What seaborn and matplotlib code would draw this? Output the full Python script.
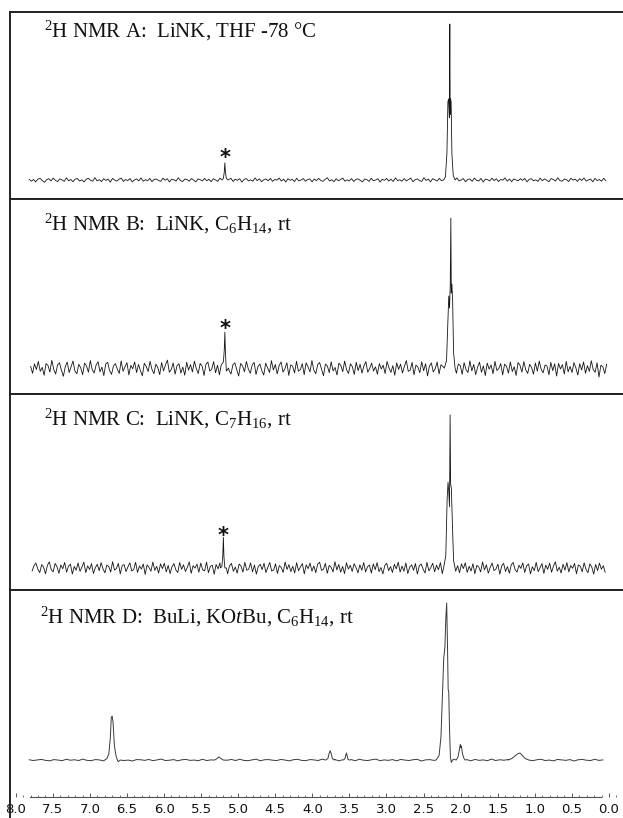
import numpy as np
import pandas as pd
import matplotlib
matplotlib.use("Agg")
import matplotlib.pyplot as plt
from matplotlib.ticker import FixedLocator, MultipleLocator, FixedFormatter
import seaborn as sns

# ---------------- data ----------------
titles = [
    r"$^{2}$H NMR A:  LiNK, THF -78 °C",
    r"$^{2}$H NMR B:  LiNK, C$_{6}$H$_{14}$, rt",
    r"$^{2}$H NMR C:  LiNK, C$_{7}$H$_{16}$, rt",
    r"$^{2}$H NMR D:  BuLi, KO$\mathit{t}$Bu, C$_{6}$H$_{14}$, rt",
]
tick_vals = [8.0, 7.5, 7.0, 6.5, 6.0, 5.5, 5.0, 4.5, 4.0, 3.5, 3.0, 2.5, 2.0, 1.5, 1.0, 0.5, 0.0]
spectrum_start = [7.82, 7.80, 7.78, 7.82]
spectrum_end = [0.04, 0.03, 0.05, 0.08]

# baseline noise (thousandths of the main peak height)
noise_A = [5, -8, 3, -12, 6, 10, -4, -15, 2, 8, -6, 12, -3, -10, 7, 0, -9, 14, -5, 3, -11, 6, 9, -7, 1,
           -13, 4, 11, -2, -8, 15, -6, 2, -10, 8, -3, 6, -14, 10, -1, -7, 5, 12, -9, 3, -4, 9, -12, 0, 7,
           -6, 13, -8, 2, -5, 10, -11, 4, 6, -3, -9, 11, -2, 8, -13, 5, 1, -7, 14, -4, -10, 6, 3, -8, 9,
           -1, -12, 7, 2, -6, 10, -5, 4, -11, 8, 0, -9, 12, -3, 6, -7, 3, 11, -10, 5, -2, 8, -14, 4, 9,
           -6, 1, -8, 13, -4, 7, -11, 2, 6, -5, 10, -9, 3, -1, 12, -7, 5, -13, 8, -2, 4, -10, 11, -6, 0,
           9, -8, 3, 7, -12, 6, -4, 10, -3, -9, 5, 14, -7, 2, -11, 8, -5, 3, 12, -8, 1, -6, 9, -10, 4,
           7, -3, -12, 6, 2, -9, 11, -5, 0, 8, -13, 4, -2, 10, -7, 5, -10, 13, -4, 1, -8, 9, -6, 3, 12,
           -11, 2, 7, -5, -9, 14, -3, 6, -12, 8, 1, -7, 10, -4, -1, 11, -10, 5, 3, -8, 13, -6, 0, 9, -12,
           4, 6, -9, 12, -2, -7, 10, -13, 5, 2, -6, 11, -4, 8, -10, 3, -1, 13, -8, 6, -11, 7, 0, -5, 9,
           -3, 10, -12, 4, 8, -6, 1, -9, 12, -5, 7, -2, -11, 9, 3, -7, 14, -4, -8, 6, 2, -10, 11, -1, 5,
           -9, 8, -3, 13, -7, 0, 6, -12, 10, -4, 3, -8, 11, -6]
noise_B = [12, -35, 28, -10, 44, -22, 5, -48, 30, 18, -27, 52, -8, -40, 22, 35, -15, -55, 10, 40, -30, 8, 47, -20, -38,
           25, 3, -45, 33, 15, -28, 50, -12, -33, 20, 42, -25, 6, -50, 27, 38, -18, -42, 14, 30, -7, -36, 48, -22, 9,
           36, -46, 18, -5, 41, -30, 24, -16, -52, 32, 11, -24, 45, -10, -38, 26, 4, -44, 37, -19, 21, 53, -28, -9, 34,
           -41, 16, 29, -34, 7, -48, 39, -14, 23, -26, 46, -3, -37, 31, 13, -50, 25, 40, -20, -8, 43, -32, 19, -45, 28,
           6, -29, 51, -16, -40, 22, 35, -11, -53, 30, 14, -25, 44, -6, -35, 20, 38, -43, 10, 27, -18, -47, 33, 2, -30,
           49, -13, 24, -39, 17, 41, -27, -5, 36, -49, 21, 12, -33, 45, -21, -10, 29, -44, 35, 8, -26, 50, -15, -38, 23,
           37, -8, -51, 26, 15, -31, 42, -19, 4, -46, 32, 18, -24, 47, -12, -36, 28, 9, -43, 39, -17, 25, -34, 14, 43,
           -28, -2, 33, -20, 8, -41, 30, -6, 19, -37, 44, 2, -29, 16, -48, 35, -9, 26, -33, 11, 50, -22, -14, 38, -45,
           20, 7, -31, 42, -18, 29, -52, 13, 34, -26, -4, 40, -39, 22, 10, -47, 31, -15, 46, -24, 3, -35, 27, 17, -42,
           36, -11, -30, 48, -19, 24, -44, 6, 39, -28, 15, -50, 33, -7, 21, -38, 45, -16, -3, 30, -46, 26, 12, -34, 41,
           -23, 9, -49, 37, 18, -27, 43, -12, -36, 25, 5, -41, 34, -21, 47, -8, -32, 20, 14, -45, 38, -17, 28, -53, 31,
           -6, 23, -40, 44, -25, 11, -30, 36, 2, -47, 29, -13, 41, -35, 16, -22, 49, -10, -28, 35, -60, 19, 8, -37, 27]
noise_C = [-20, 15, 32, -8, -30, 22, 5, -38, 18, 40, -12, -25, 30, 8, -35, 20, -5, 36, -28, 12, 25, -40, 10, -15, 33,
           -22, 6, 38, -30, 14, -10, 28, -36, 2, 24, -18, 35, -6, -32, 19, 9, -27, 41, -14, -3, 30, -39, 16, 22, -24,
           7, 34, -20, -11, 37, -29, 13, -7, 26, -42, 20, 3, -21, 39, -16, 11, -33, 27, -4, 31, -26, 17, -37, 8, 29,
           -13, -30, 36, -9, 21, -23, 4, 40, -35, 15, -1, 25, -28, 32, -12, -19, 38, -31, 10, 18, -41, 23, -6, 34, -17,
           1, 28, -38, 14, 30, -22, 6, -34, 26, 12, -27, 37, -15, -8, 33, -25, 19, -40, 9, 24, -11, 31, -30, 5, 36,
           -20, -14, 27, -36, 16, 2, -29, 39, -10, 22, -24, 11, -33, 35, -18, 7, 29, -39, 20, -5, 32, -21, 13, -31, 25,
           38, -16, -9, 30, -35, 17, 4, -26, 41, -13, 23, -28, 10, -37, 34, -7, 18, -23, 28, 3, -32, 21, -15, 36, -26,
           8, 19, -34, 27, -11, 35, -24, 3, -39, 16, 31, -18, 9, -30, 24, -6, 38, -27, 12, -21, 33, -36, 5, 20, -15,
           29, -40, 14, 26, -8, -33, 37, -19, 2, 31, -25, 18, -12, 35, -37, 10, 23, -28, 6, -16, 40, -22, 15, -31, 27,
           -4, 34, -29, 11, -20, 28, -38, 17, 7, -26, 39, -13, 21, -34, 4, 32, -17, -7, 25, -41, 13, 30, -23, 9, -35,
           22, 36, -12, -27, 18, -3, 33, -30, 14, 26, -39, 8, -18, 37, -24, 1, 29, -36, 19, -9, 31, -28, 12, 40, -21,
           5, -33, 24, -14, 35, -26, 16, -2, 30, -38, 20, 11, -25, 34, -10, -31, 27, 6, -40, 23, -17, 32, -8, 15, -29]
noise_D = [2, -3, 1, 4, -2, -5, 3, 0, -4, 5, -1, 2, -3, 6, -2, -4, 3, 1, -5, 4, -1, 2, 5, -3, 0, -6, 3, 2,
           -2, 4, -4, 1, 6, -3, -1, 3, -5, 2, 4, -2, 0, -4, 5, -3, 1, 3, -6, 2, -1, 4, -3, 5, -2, -4, 1, 6,
           -5, 2, 3, -1, -3, 4, 0, -5, 2, 5, -2, -4, 3, 1, -3, 6, -1, -2, 4, -5, 2, 0, 3, -4, 5, -1, -3, 2,
           6, -4, 1, -2, 3, -5, 4, 0, -3, 2, 5, -6, 1, 3, -2, 4, -4, 2, -1, 5, -3, 0, 3, -5, 4, -2, 1, -4,
           6, -3, 2, -1, 3, -5, 4, 1, -2, 3, -4, 2, 5, -3, 0, -5, 4, 1, -2, 3, -6, 2, 4, -1, -3, 5, -2, 1]

# peak outlines (ppm, relative intensity)
A_main_ppm = [2.23, 2.205, 2.185, 2.172, 2.162, 2.152, 2.146, 2.141, 2.136, 2.128, 2.118, 2.10, 2.075]
A_main_int = [0.0, 0.02, 0.17, 0.50, 0.52, 0.40, 1.00, 0.42, 0.52, 0.50, 0.17, 0.03, 0.0]
A_star_ppm = [5.22, 5.20, 5.188, 5.18, 5.172, 5.16, 5.14]
A_star_int = [0.0, 0.01, 0.05, 0.11, 0.05, 0.01, 0.0]

B_main_ppm = [2.22, 2.19, 2.172, 2.16, 2.15, 2.14, 2.132, 2.126, 2.118, 2.108, 2.095, 2.075]
B_main_int = [0.0, 0.05, 0.30, 0.48, 0.40, 0.55, 1.00, 0.50, 0.56, 0.45, 0.10, 0.0]
B_star_ppm = [5.23, 5.20, 5.188, 5.18, 5.172, 5.16, 5.13]
B_star_int = [0.02, 0.04, 0.12, 0.24, 0.10, -0.02, 0.0]

C_main_ppm = [2.23, 2.20, 2.182, 2.17, 2.16, 2.15, 2.142, 2.135, 2.125, 2.112, 2.095, 2.075]
C_main_int = [0.0, 0.08, 0.45, 0.56, 0.50, 0.40, 1.00, 0.55, 0.52, 0.30, 0.05, 0.0]
C_star_ppm = [5.24, 5.22, 5.208, 5.20, 5.192, 5.18, 5.16]
C_star_int = [0.0, 0.01, 0.08, 0.20, 0.07, 0.0, 0.0]

D_main_ppm = [2.33, 2.29, 2.265, 2.245, 2.228, 2.212, 2.20, 2.188, 2.178, 2.168, 2.16, 2.15, 2.138, 2.125, 2.11]
D_main_int = [0.0, 0.03, 0.15, 0.42, 0.65, 0.72, 0.90, 1.00, 0.75, 0.45, 0.43, 0.20, 0.02, -0.015, 0.0]
D_200_ppm = [2.06, 2.035, 2.015, 2.005, 1.998, 1.99, 1.975, 1.955, 1.94]
D_200_int = [0.0, 0.02, 0.07, 0.10, 0.08, 0.09, 0.04, 0.01, 0.0]
D_670_ppm = [6.80, 6.77, 6.745, 6.725, 6.712, 6.70, 6.688, 6.67, 6.645, 6.62, 6.59]
D_670_int = [0.0, 0.01, 0.04, 0.14, 0.27, 0.28, 0.24, 0.09, 0.02, -0.01, 0.0]
D_376_ppm = [3.82, 3.79, 3.775, 3.76, 3.745, 3.73, 3.70]
D_376_int = [0.0, 0.01, 0.04, 0.06, 0.04, 0.01, 0.0]
D_354_ppm = [3.58, 3.56, 3.55, 3.54, 3.53, 3.52, 3.50]
D_354_int = [0.0, 0.01, 0.03, 0.045, 0.025, 0.005, 0.0]
D_120_ppm = [1.36, 1.31, 1.27, 1.23, 1.20, 1.17, 1.13, 1.08]
D_120_int = [0.0, 0.01, 0.025, 0.04, 0.045, 0.03, 0.01, 0.0]
D_526_ppm = [5.32, 5.29, 5.26, 5.23, 5.20]
D_526_int = [0.0, 0.008, 0.02, 0.008, 0.0]

star_ppm = [5.18, 5.18, 5.20]
star_y = [0.10, 0.22, 0.17]

noises = [noise_A, noise_B, noise_C, noise_D]
peaks = [
    [(A_main_ppm, A_main_int), (A_star_ppm, A_star_int)],
    [(B_main_ppm, B_main_int), (B_star_ppm, B_star_int)],
    [(C_main_ppm, C_main_int), (C_star_ppm, C_star_int)],
    [(D_main_ppm, D_main_int), (D_200_ppm, D_200_int), (D_670_ppm, D_670_int),
     (D_376_ppm, D_376_int), (D_354_ppm, D_354_int), (D_120_ppm, D_120_int),
     (D_526_ppm, D_526_int)],
]


def build_spectrum(start, end, noise, peak_list):
    x = np.linspace(start, end, len(noise))
    y = np.array(noise, dtype=float) / 1000.0
    keep = np.ones(len(x), dtype=bool)
    xs, ys = [], []
    for px, py in peak_list:
        lo, hi = min(px), max(px)
        keep &= ~((x >= lo) & (x <= hi))
        xs.extend(px)
        ys.extend(py)
    xx = np.concatenate([x[keep], np.array(xs)])
    yy = np.concatenate([y[keep], np.array(ys)])
    order = np.argsort(-xx)
    return pd.DataFrame({"ppm": xx[order], "intensity": yy[order]})


# ---------------- styling / layout ----------------
sns.set_theme(style="white")
plt.rcParams["font.family"] = ["DejaVu Sans"]
plt.rcParams["mathtext.fontset"] = "custom"
plt.rcParams["mathtext.rm"] = "Liberation Serif"
plt.rcParams["mathtext.it"] = "Liberation Serif:italic"
plt.rcParams["mathtext.bf"] = "Liberation Serif:bold"

W, H = 623, 818
fig = plt.figure(figsize=(W / 100, H / 100), dpi=100)
fig.patch.set_facecolor("white")

panel_px = [(12, 199), (199, 394), (394, 590), (590, 818)]
ylims = [(-0.122, 1.077), (-0.173, 1.127), (-0.144, 1.137), (-0.369, 1.083)]
title_px = [(44, 37), (44, 230), (44, 425), (40, 623)]
xlim = (8.078, -0.274)
line_colors = ["#151515", "#151515", "#151515", "#3a3a3a"]
line_widths = [0.6, 0.6, 0.6, 0.7]

for i in range(4):
    top, bot = panel_px[i]
    ax = fig.add_axes([10 / W, 1 - bot / H, (W - 10) / W + 0.01, (bot - top) / H])
    ax.set_facecolor("white")
    df = build_spectrum(spectrum_start[i], spectrum_end[i], noises[i], peaks[i])
    sns.lineplot(data=df, x="ppm", y="intensity", ax=ax, sort=False, estimator=None,
                 color=line_colors[i], lw=line_widths[i])
    ax.set_xlim(*xlim)
    ax.set_ylim(*ylims[i])
    ax.set_yticks([])
    ax.set_xlabel("")
    ax.set_ylabel("")
    for s in ["top", "left", "bottom"]:
        ax.spines[s].set_visible(True)
        ax.spines[s].set_color("#222222")
        ax.spines[s].set_linewidth(1.4)
    ax.spines["right"].set_visible(False)
    if i < 3:
        ax.set_xticks([])
        ax.text(star_ppm[i], star_y[i], "*", ha="center", va="baseline",
                fontsize=15, fontweight="bold", color="#111111", family="DejaVu Sans")
    else:
        ax.spines["bottom"].set_position(("axes", 0.092))
        ax.spines["bottom"].set_bounds(7.81, 0.11)
        ax.spines["bottom"].set_linewidth(0.8)
        ax.spines["bottom"].set_color("#555555")
        ax.xaxis.set_major_locator(FixedLocator(tick_vals))
        ax.xaxis.set_major_formatter(FixedFormatter([f"{v:.1f}" for v in tick_vals]))
        ax.xaxis.set_minor_locator(MultipleLocator(0.1))
        ax.tick_params(axis="x", which="major", direction="in", length=3, width=0.7,
                       colors="#555555", labelcolor="#111111", labelsize=9.5, pad=4, bottom=True)
        ax.tick_params(axis="x", which="minor", direction="in", length=1.8, width=0.6,
                       colors="#555555", bottom=True)
    tx, ty = title_px[i]
    fig.text(tx / W, 1 - ty / H, titles[i], ha="left", va="baseline",
             fontsize=15, family="Liberation Serif", color="#111111")

fig.savefig("out.png", dpi=100, facecolor="white")
